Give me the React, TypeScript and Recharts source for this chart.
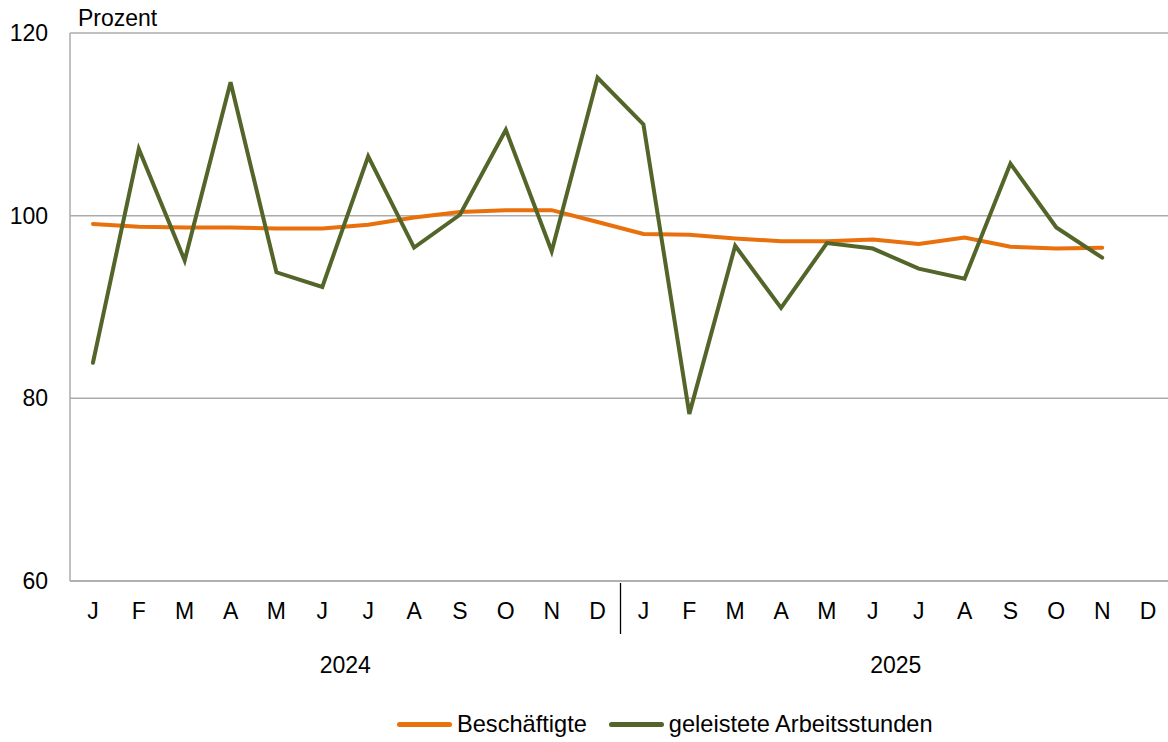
import React from 'react';
import { LineChart, Line, XAxis, YAxis, CartesianGrid } from 'recharts';

const months = ['J', 'F', 'M', 'A', 'M', 'J', 'J', 'A', 'S', 'O', 'N', 'D', 'J', 'F', 'M', 'A', 'M', 'J', 'J', 'A', 'S', 'O', 'N', 'D'];
const years = ['2024', '2025'];
const yTicks = [60, 80, 100, 120];

// Beschäftigte (Prozent)
const employed = [99.1, 98.8, 98.7, 98.7, 98.6, 98.6, 99.0, 99.8, 100.4, 100.6, 100.6, 99.3, 98.0, 97.9, 97.5, 97.2, 97.2, 97.4, 96.9, 97.6, 96.6, 96.4, 96.5, null];
// geleistete Arbeitsstunden (Prozent)
const hours = [83.9, 107.3, 95.1, 114.6, 93.8, 92.2, 106.5, 96.5, 100.1, 109.4, 96.1, 115.1, 110.0, 78.3, 96.7, 89.9, 97.0, 96.4, 94.2, 93.1, 105.7, 98.7, 95.4, null];

const seriesNames = ['Beschäftigte', 'geleistete Arbeitsstunden'];
const colors = ['#E8710E', '#536529'];

const data = months.map((m, i) => ({ idx: i, month: m, employed: employed[i], hours: hours[i] }));

const W = 1168;
const H = 742;
const LEFT = 70;
const RIGHT = -3;
const BAND = (W - RIGHT - LEFT) / months.length;
const FONT = 'Liberation Sans, Arial, sans-serif';
const FS = 23;

const MonthTick = (props: any) => {
  const { x, y, index } = props;
  return (
    <g>
      <text x={x} y={y + 36} textAnchor="middle" fontSize={FS} fill="#000" fontFamily={FONT}>
        {months[index]}
      </text>
      {index === 12 && <line x1={x - BAND / 2} x2={x - BAND / 2} y1={y} y2={y + 51} stroke="#000" strokeWidth={1.3} />}
      {index % 12 === 6 && (
        <text x={x - BAND / 2} y={y + 90} textAnchor="middle" fontSize={FS} fill="#000" fontFamily={FONT}>
          {years[Math.floor(index / 12)]}
        </text>
      )}
    </g>
  );
};

export default function App() {
  return (
    <div style={{ position: 'relative', width: W, height: H, fontFamily: FONT, overflow: 'hidden' }}>
      <style>{'body{margin:0}'}</style>
      <LineChart width={W} height={H} data={data} margin={{ top: 33, right: RIGHT, bottom: 0, left: 0 }}>
        <CartesianGrid horizontal vertical={false} stroke="#ABABAB" strokeWidth={1.5} />
        <XAxis
          dataKey="idx"
          height={161}
          interval={0}
          padding={{ left: BAND / 2, right: BAND / 2 }}
          tickLine={false}
          tickSize={0}
          stroke="#ABABAB"
          strokeWidth={1.5}
          tick={<MonthTick />}
        />
        <YAxis
          domain={[60, 120]}
          ticks={yTicks}
          width={LEFT}
          tickLine={false}
          tickSize={0}
          tickMargin={22}
          stroke="#ABABAB"
          strokeWidth={1.5}
          tick={{ fontSize: FS, fill: '#000', fontFamily: FONT }}
        />
        <Line type="linear" dataKey="employed" stroke={colors[0]} strokeWidth={4} dot={false} isAnimationActive={false} strokeLinecap="round" />
        <Line type="linear" dataKey="hours" stroke={colors[1]} strokeWidth={4} dot={false} isAnimationActive={false} strokeLinecap="round" />
      </LineChart>
      <div style={{ position: 'absolute', left: 78, top: 5, fontSize: FS, color: '#000', lineHeight: '26px' }}>Prozent</div>
      <div
        style={{
          position: 'absolute',
          left: 397,
          top: 711,
          display: 'flex',
          alignItems: 'center',
          fontSize: 23.6,
          lineHeight: '26px',
          color: '#000',
          gap: 22,
        }}
      >
        {seriesNames.map((n, i) => (
          <div key={n} style={{ display: 'flex', alignItems: 'center' }}>
            <span style={{ display: 'inline-block', width: 55, height: 5, borderRadius: 3, background: colors[i], marginRight: 5 }} />
            <span>{n}</span>
          </div>
        ))}
      </div>
    </div>
  );
}
